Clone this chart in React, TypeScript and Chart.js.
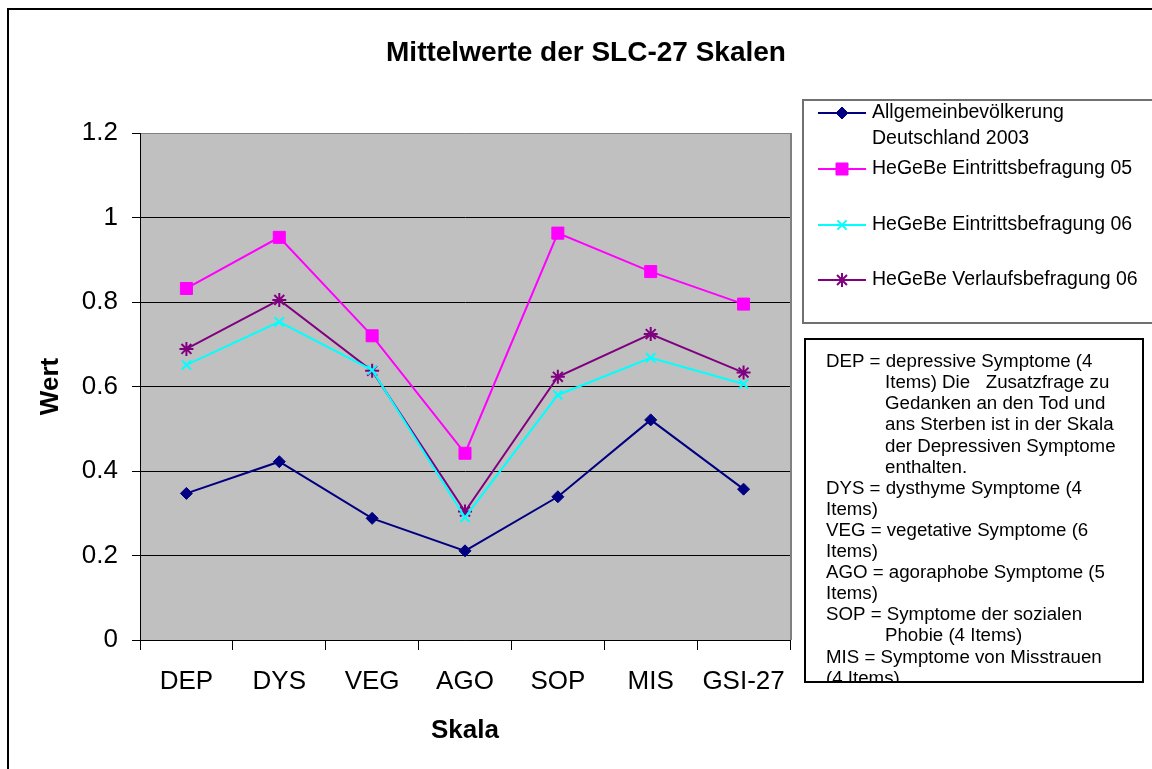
import React, { useEffect, useRef } from 'react';
import { Chart, registerables } from 'chart.js';
import { drawPoint } from 'chart.js/helpers';

Chart.register(...registerables);

const categories = ['DEP', 'DYS', 'VEG', 'AGO', 'SOP', 'MIS', 'GSI-27'];
const allgemein2003 = [0.347, 0.422, 0.288, 0.211, 0.339, 0.521, 0.357];
const eintritt05 = [0.832, 0.953, 0.72, 0.442, 0.963, 0.872, 0.795];
const eintritt06 = [0.651, 0.753, 0.639, 0.29, 0.58, 0.668, 0.606];
const verlauf06 = [0.689, 0.805, 0.637, 0.304, 0.623, 0.724, 0.633];

const seriesLabels = [
  'Allgemeinbevölkerung Deutschland 2003',
  'HeGeBe Eintrittsbefragung 05',
  'HeGeBe Eintrittsbefragung 06',
  'HeGeBe Verlaufsbefragung 06',
];
const legendTextLines = [
  ['Allgemeinbevölkerung', 'Deutschland 2003'],
  ['HeGeBe Eintrittsbefragung 05'],
  ['HeGeBe Eintrittsbefragung 06'],
  ['HeGeBe Verlaufsbefragung 06'],
];
const seriesColors = ['#000080', '#FF00FF', '#00FFFF', '#800080'];
const seriesStyles = ['rectRot', 'rect', 'crossRot', 'star'];
const seriesRadius = [6, 8.5, 6.5, 7];

const chartTitle = 'Mittelwerte der SLC-27 Skalen';
const yTitle = 'Wert';
const xTitle = 'Skala';

const noteLines: [string, boolean][] = [
  ['DEP = depressive Symptome (4', false],
  ['Items) Die   Zusatzfrage zu', true],
  ['Gedanken an den Tod und', true],
  ['ans Sterben ist in der Skala', true],
  ['der Depressiven Symptome', true],
  ['enthalten.', true],
  ['DYS = dysthyme Symptome (4', false],
  ['Items)', false],
  ['VEG = vegetative Symptome (6', false],
  ['Items)', false],
  ['AGO = agoraphobe Symptome (5', false],
  ['Items)', false],
  ['SOP = Symptome der sozialen', false],
  ['Phobie (4 Items)', true],
  ['MIS = Symptome von Misstrauen', false],
  ['(4 Items)', false],
];

const FONT = '"Liberation Sans", Arial, Helvetica, sans-serif';

const decorPlugin = {
  id: 'decor',
  beforeDraw(chart: any) {
    const { ctx, chartArea } = chart;
    ctx.save();
    ctx.fillStyle = '#FFFFFF';
    ctx.fillRect(0, 0, chart.width, chart.height);
    ctx.fillStyle = '#C0C0C0';
    ctx.fillRect(chartArea.left, chartArea.top, chartArea.right - chartArea.left, chartArea.bottom - chartArea.top);
    ctx.restore();
  },
  afterDraw(chart: any) {
    const { ctx, chartArea } = chart;
    ctx.save();
    // plot area right border
    ctx.strokeStyle = '#808080';
    ctx.lineWidth = 2;
    ctx.beginPath();
    ctx.moveTo(chartArea.right + 1, chartArea.top);
    ctx.lineTo(chartArea.right + 1, chartArea.bottom);
    ctx.stroke();

    // outer frame
    ctx.strokeStyle = '#000000';
    ctx.lineWidth = 2;
    ctx.strokeRect(8, 9, 2000, 2000);

    // title
    ctx.fillStyle = '#000';
    ctx.font = `bold 28px ${FONT}`;
    ctx.textAlign = 'center';
    ctx.textBaseline = 'middle';
    ctx.fillText(chartTitle, 586, 53);

    // legend box
    ctx.strokeStyle = '#707070';
    ctx.lineWidth = 2;
    ctx.strokeRect(803, 100, 1000, 223);
    const entryY = [113, 169, 225, 280];
    ctx.font = `19.5px ${FONT}`;
    ctx.textAlign = 'left';
    legendTextLines.forEach((lines, i) => {
      const y = entryY[i];
      ctx.strokeStyle = seriesColors[i];
      ctx.lineWidth = 2;
      ctx.beginPath();
      ctx.moveTo(818, y);
      ctx.lineTo(866, y);
      ctx.stroke();
      ctx.fillStyle = seriesColors[i];
      ctx.strokeStyle = seriesColors[i];
      ctx.lineWidth = i >= 2 ? 2 : 1;
      drawPoint(ctx, { pointStyle: seriesStyles[i], radius: seriesRadius[i], rotation: 0, borderWidth: ctx.lineWidth } as any, 842, y);
      ctx.fillStyle = '#000';
      lines.forEach((t, j) => ctx.fillText(t, 872, y + j * 26));
    });

    // notes box
    const bx = 805, by = 339, bw = 338, bh = 343;
    ctx.fillStyle = '#FFFFFF';
    ctx.fillRect(bx, by, bw, bh);
    ctx.save();
    ctx.beginPath();
    ctx.rect(bx, by, bw, bh);
    ctx.clip();
    ctx.fillStyle = '#000';
    ctx.font = `18.7px ${FONT}`;
    ctx.textAlign = 'left';
    ctx.textBaseline = 'middle';
    noteLines.forEach(([t, indent], i) => {
      ctx.fillText(t, indent ? 885 : 826, 362 + i * 21.1);
    });
    ctx.restore();
    ctx.strokeStyle = '#000';
    ctx.lineWidth = 2;
    ctx.strokeRect(bx, by, bw, bh);
    ctx.restore();
  },
};

export default function App() {
  const ref = useRef<HTMLCanvasElement>(null);
  useEffect(() => {
    document.body.style.margin = '0';
    const canvas = ref.current!;
    const series = [allgemein2003, eintritt05, eintritt06, verlauf06];
    const chart = new Chart(canvas, {
      type: 'line',
      data: {
        labels: categories,
        datasets: series.map((d, i) => ({
          label: seriesLabels[i],
          data: d,
          borderColor: seriesColors[i],
          backgroundColor: seriesColors[i],
          borderWidth: 2,
          tension: 0,
          pointStyle: seriesStyles[i] as any,
          pointRadius: seriesRadius[i],
          pointBorderWidth: i >= 2 ? 2 : 1,
          pointBackgroundColor: seriesColors[i],
          pointBorderColor: seriesColors[i],
        })),
      },
      options: {
        animation: false,
        responsive: false,
        devicePixelRatio: 1,
        layout: { padding: { left: 10, top: 133, right: 362, bottom: 0 } },
        plugins: {
          legend: { display: false },
          title: { display: false },
          tooltip: { enabled: false },
        },
        scales: {
          x: {
            type: 'category',
            offset: true,
            grid: {
              offset: true,
              drawOnChartArea: false,
              drawTicks: true,
              tickLength: 10,
              color: '#000',
              tickColor: '#000',
            },
            border: { color: '#000', width: 1 },
            ticks: { color: '#000', font: { family: FONT, size: 26 }, padding: 16, maxRotation: 0, autoSkip: false },
            title: {
              display: true,
              text: xTitle,
              color: '#000',
              font: { family: FONT, size: 26, weight: 'bold' },
              padding: { top: 0, bottom: 23 },
            },
            afterFit(scale: any) {
              scale.height = 129;
            },
          },
          y: {
            min: 0,
            max: 1.2,
            grid: {
              color: (c: any) => (c.tick && c.tick.value >= 1.19 ? '#808080' : '#000'),
              tickColor: '#000',
              lineWidth: 1,
              tickLength: 8,
              drawTicks: true,
            },
            border: { color: '#000', width: 1 },
            ticks: {
              stepSize: 0.2,
              color: '#000',
              font: { family: FONT, size: 26 },
              padding: 14,
              callback: (v: any) => String(Math.round(Number(v) * 10) / 10),
            },
            title: {
              display: true,
              text: yTitle,
              color: '#000',
              font: { family: FONT, size: 26, weight: 'bold' },
              padding: { top: 25, bottom: 0 },
            },
            afterFit(scale: any) {
              scale.width = 130;
            },
          },
        },
      },
      plugins: [decorPlugin],
    });
    return () => chart.destroy();
  }, []);
  return <canvas ref={ref} width={1152} height={769} style={{ display: 'block' }} />;
}
